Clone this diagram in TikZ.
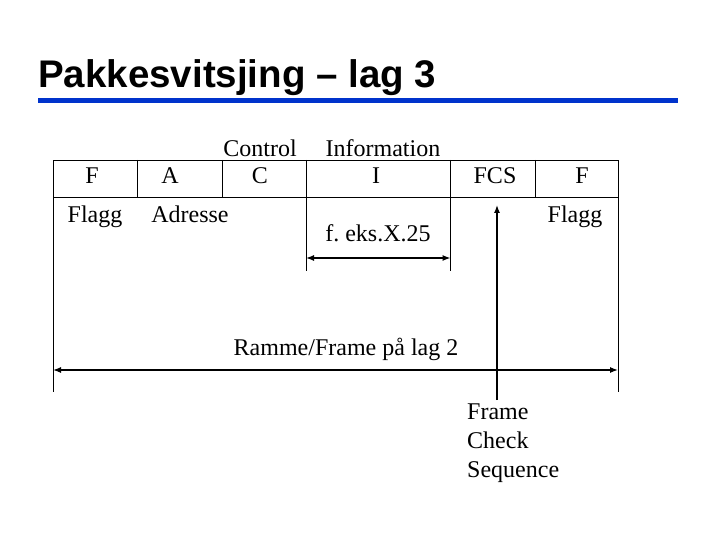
\documentclass[tikz,border=0pt]{standalone}
\usepackage{fontspec}
\setmainfont{Liberation Serif}
\newfontfamily\titlefont{Liberation Sans}
\usetikzlibrary{arrows.meta}
\frenchspacing
\begin{document}
\begin{tikzpicture}[x=1pt,y=-1pt,
  lbl/.style={font=\fontsize{24}{29}\selectfont,inner sep=0pt,text height=16pt,text depth=5pt},
  cell/.style={line width=0.7pt},
  dim/.style={line width=1.3pt,{Latex[length=8pt,width=6pt]}-{Latex[length=8pt,width=6pt]}}]
\useasboundingbox (0,0) rectangle (720,540);
\node[anchor=base west,inner sep=0pt,font=\titlefont\bfseries\fontsize{38.5}{44}\selectfont] (title) at (38,88) {Pakkesvitsjing – lag 3};
\draw[line width=5pt,color={rgb,255:red,0;green,51;blue,204}] (38,101) coordinate (t1) -- (678,101) coordinate (t2);
% table
\draw[cell] (53,160) rectangle (618,197);
\foreach \x in {137.5,222,306,450.5,535}{\draw[cell] (\x,160) -- (\x,197);}
\draw[cell] (53,197) -- (53,392);
\draw[cell] (618,197) -- (618,392);
\draw[cell] (306,197) -- (306,271);
\draw[cell] (450.5,197) -- (450.5,271);
\node[lbl] (cF) at (92,178) {F};
\node[lbl] (cA) at (170,178) {A};
\node[lbl] (cC) at (260,178) {C};
\node[lbl] (cI) at (376,178) {I};
\node[lbl] (cFCS) at (495,178) {FCS};
\node[lbl] (cF2) at (582,178) {F};
\node[lbl] (ctl) at (260,151) {Control};
\node[lbl] (inf) at (383,151) {Information};
\node[lbl] (fl1) at (95,217) {Flagg};
\node[lbl] (adr) at (190,217) {Adresse};
\node[lbl] (fl2) at (575,217) {Flagg};
\node[lbl] (feks) at (378,236) {f. eks.X.25};
\node[lbl] (ramme) at (346,350) {Ramme/Frame på lag 2};
\coordinate (ia) at (306,258); \coordinate (ib) at (450.5,258);
\draw[dim] (ia) -- (ib);
\coordinate (ra) at (53,370); \coordinate (rb) at (618,370);
\draw[dim] (ra) -- (rb);
\coordinate (fa) at (497,400); \coordinate (fb) at (497,205);
\draw[line width=1.3pt,-{Latex[length=8pt,width=6pt]}] (fa) -- (fb);
\node[anchor=west,align=left,inner sep=0pt,font=\fontsize{24}{29}\selectfont] (fcs) at (467,443) {Frame\\Check\\Sequence};
\end{tikzpicture}
\end{document}
